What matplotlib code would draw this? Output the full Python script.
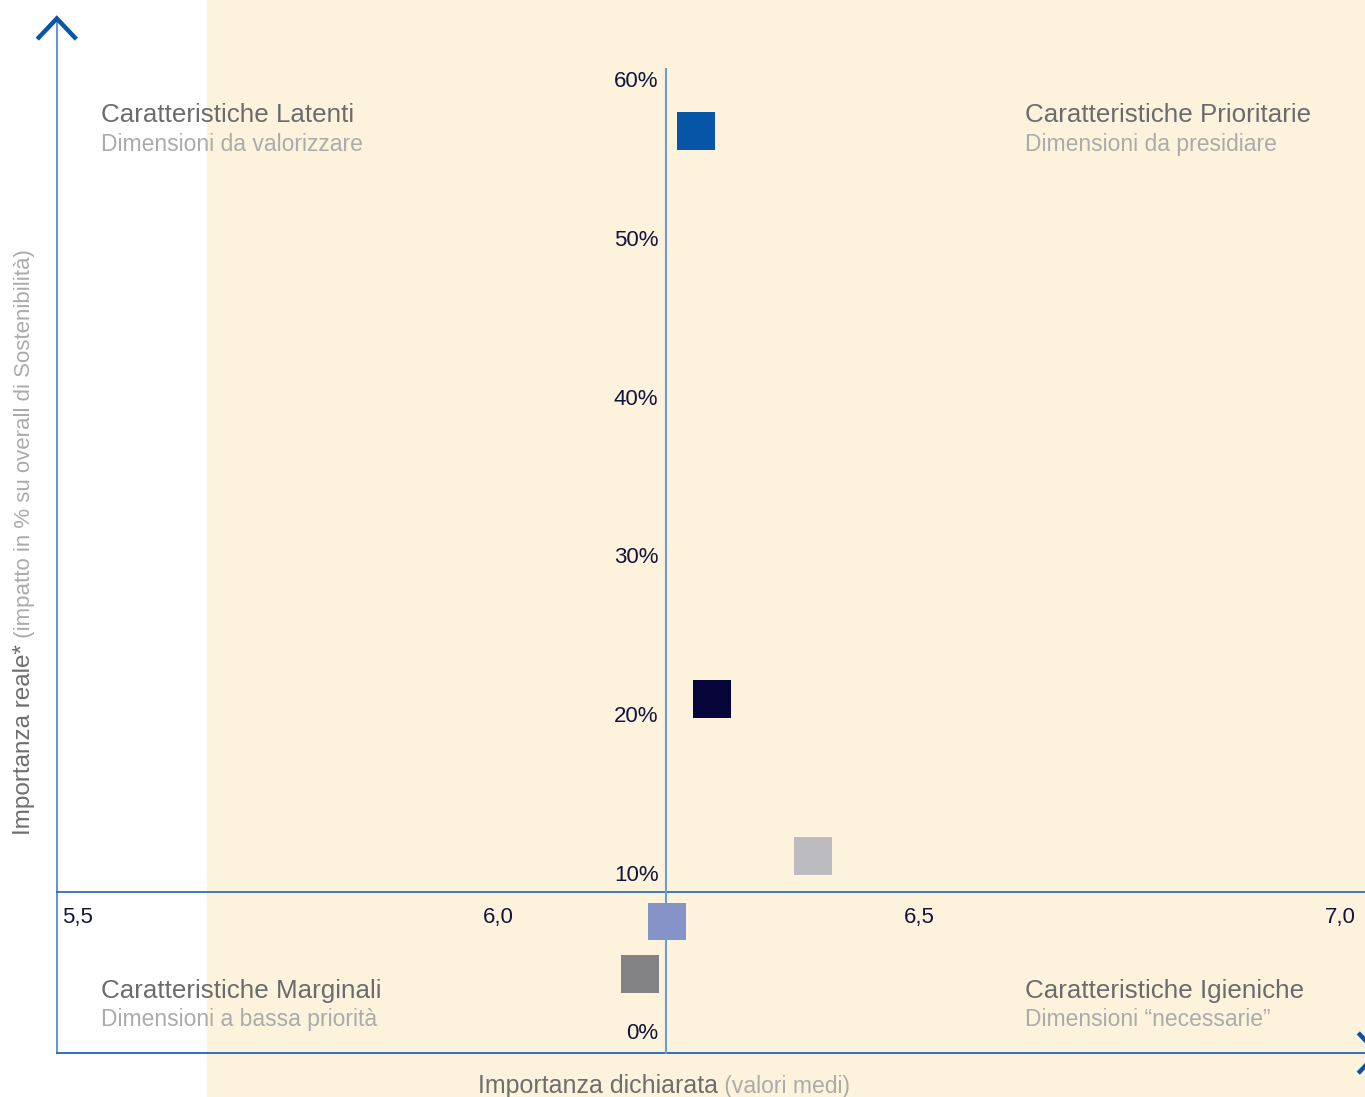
import matplotlib.pyplot as plt
from matplotlib import transforms

plt.rcParams['font.family'] = ['Liberation Sans', 'DejaVu Sans']

# importanza dichiarata (valori medi) e importanza reale (% su overall)
imp_dichiarata = [6.235, 6.254, 6.374, 6.201, 6.169]
imp_reale = [56.7, 20.9, 11.0, 6.9, 3.6]
colori = ['#0655a6', '#07063a', '#bcbcc0', '#8593c8', '#838386']

# medie che dividono i quadranti
media_x = 6.20
media_y = 8.76

x_ticks = [5.5, 6.0, 6.5, 7.0]
x_tick_labels = ['5,5', '6,0', '6,5', '7,0']
y_ticks = [0, 10, 20, 30, 40, 50, 60]
y_tick_labels = ['0%', '10%', '20%', '30%', '40%', '50%', '60%']

quadranti = [
    ('Caratteristiche Latenti', 'Dimensioni da valorizzare', 5.5285, 57.72),
    ('Caratteristiche Prioritarie', 'Dimensioni da presidiare', 6.626, 57.72),
    ('Caratteristiche Marginali', 'Dimensioni a bassa priorità', 5.5285, 2.53),
    ('Caratteristiche Igieniche', 'Dimensioni \u201cnecessarie\u201d', 6.626, 2.53),
]

fig = plt.figure(figsize=(13.65, 10.97), dpi=100)
ax = fig.add_axes([0, 0, 1, 1])
ax.set_xlim(5.40855, 7.02969)
ax.set_ylim(-4.159, 64.965)
ax.axis('off')

# sfondo crema
ax.axvspan(5.654, 7.1, color='#fdf3dd', zorder=0)

x_left = 5.476
y_bottom = -1.39
navy = '#14143c'

# assi con frecce
ax.plot([x_left, x_left], [y_bottom, 63.8], color='#4f8fd6', lw=1.3, zorder=2)
ax.plot([x_left - 0.0214, x_left, x_left + 0.0214], [62.6, 63.8, 62.6],
        color='#0a55a8', lw=3.2, solid_joinstyle='miter', zorder=3)
ax.plot([x_left, 7.1], [y_bottom, y_bottom], color='#1f64b8', lw=1.3, zorder=2)
ax.plot([7.0235, 7.0445, 7.0235], [y_bottom + 1.17, y_bottom, y_bottom - 1.17],
        color='#0a55a8', lw=3.2, solid_joinstyle='miter', zorder=3)

# linee delle medie
ax.plot([x_left, 7.1], [media_y, media_y], color='#1f64b8', lw=1.2, zorder=2)
ax.plot([media_x, media_x], [y_bottom, 60.6], color='#6f9cc8', lw=1.5, zorder=2)

# etichette dei valori
off_y = transforms.offset_copy(ax.transData, fig=fig, x=-8, y=-3, units='dots')
for v, lab in zip(y_ticks, y_tick_labels):
    ax.text(media_x, v, lab, transform=off_y, ha='right', va='center',
            fontsize=16, color=navy)
off_x = transforms.offset_copy(ax.transData, fig=fig, x=0, y=-26, units='dots')
for v, lab in zip(x_ticks, x_tick_labels):
    ax.text(v, media_y, lab, transform=off_x, ha='center', va='center',
            fontsize=16, color=navy)

# punti
ax.scatter(imp_dichiarata, imp_reale, marker='s', s=748, c=colori,
           linewidths=0, zorder=4)

# etichette dei quadranti
for titolo, sotto, qx, qy in quadranti:
    ax.text(qx, qy, titolo, ha='left', va='center', fontsize=18.7, color='#6b6b6e')
    ax.text(qx, qy - 1.83, sotto, ha='left', va='center', fontsize=16.5, color='#ababab')

# titoli degli assi
t1 = ax.text(5.976, -3.45, 'Importanza dichiarata', ha='left', va='center',
             fontsize=18, color='#6e6e70')
ax.annotate(' (valori medi)', xy=(1, 0), xycoords=t1, ha='left', va='bottom',
            fontsize=16.5, color='#ababab')
t2 = ax.text(5.4375, 12.35, 'Importanza reale*', rotation=90, ha='center',
             va='bottom', fontsize=17.5, color='#6e6e70')
ax.annotate(' (impatto in % su overall di Sostenibilità)', xy=(0.5, 1), xycoords=t2,
            rotation=90, ha='center', va='bottom', fontsize=16, color='#ababab')

fig.savefig('out.png', dpi=100)
